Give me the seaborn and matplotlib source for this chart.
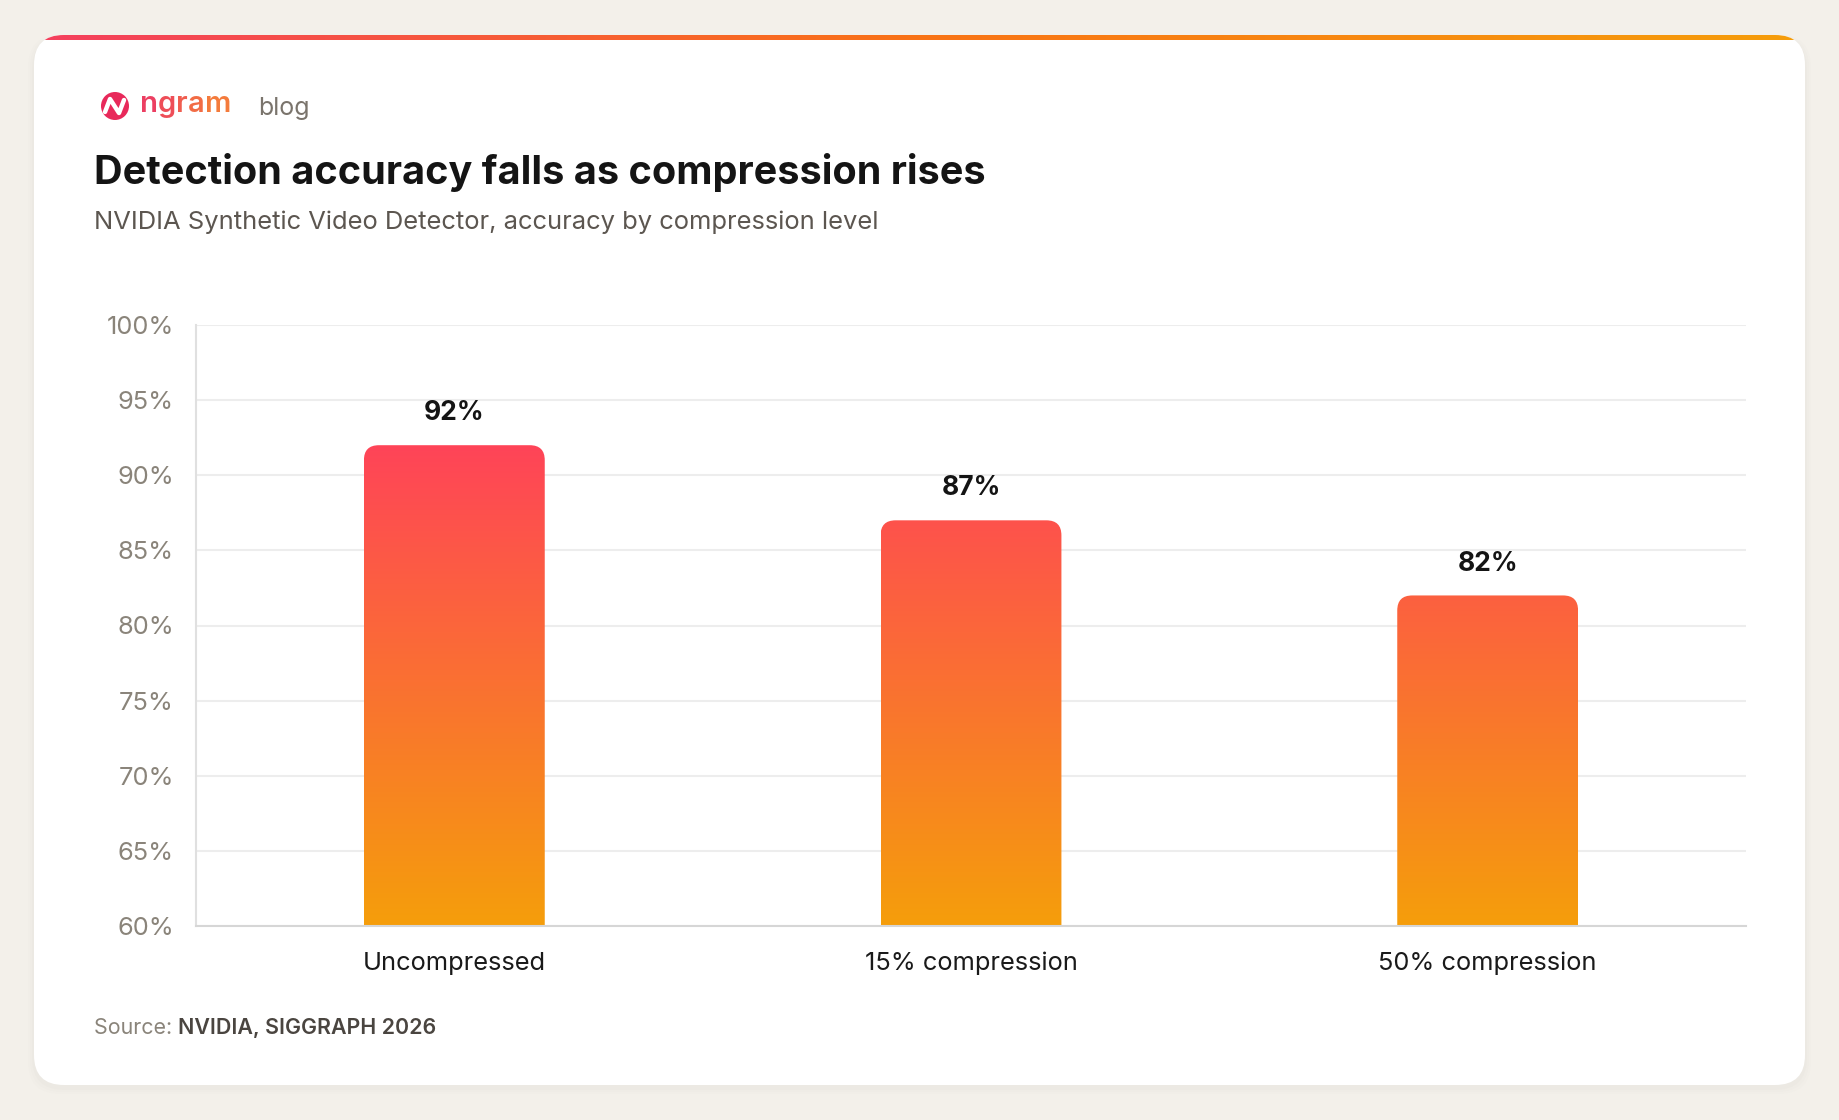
import matplotlib
matplotlib.use("Agg")
import matplotlib.pyplot as plt
import matplotlib.colors as mcolors
from matplotlib.patches import FancyBboxPatch, PathPatch, Circle
from matplotlib.path import Path
from matplotlib.transforms import IdentityTransform
import seaborn as sns
import numpy as np

# data
categories = ["Uncompressed", "15% compression", "50% compression"]
accuracy = [92, 87, 82]
y_ticks = [60, 65, 70, 75, 80, 85, 90, 95, 100]
y_tick_labels = [f"{t}%" for t in y_ticks]

W, H, DPI = 1840, 1120, 100
sns.set_theme(style="white")
plt.rcParams["font.family"] = ["Inter", "DejaVu Sans"]

fig = plt.figure(figsize=(W / DPI, H / DPI), dpi=DPI)
fig.patch.set_facecolor("#F3F0EA")

# background layer in pixel coords (origin top-left)
bg = fig.add_axes([0, 0, 1, 1])
bg.set_xlim(0, W)
bg.set_ylim(H, 0)
bg.axis("off")

card_x0, card_y0, card_x1, card_y1 = 34, 35, 1805, 1085
for i, a in enumerate([0.03, 0.025, 0.02]):
    bg.add_patch(FancyBboxPatch((card_x0 - 2 - i * 2, card_y0 + 2 - i), card_x1 - card_x0 + 4 + i * 4,
                                card_y1 - card_y0 + 3 + i * 3,
                                boxstyle="round,pad=0,rounding_size=32", fc="#B0A898", ec="none", alpha=a))
card = FancyBboxPatch((card_x0, card_y0), card_x1 - card_x0, card_y1 - card_y0,
                      boxstyle="round,pad=0,rounding_size=30", fc="white", ec="none")
bg.add_patch(card)

# top gradient strip
strip_cmap = mcolors.LinearSegmentedColormap.from_list("strip", ["#F43F5E", "#F97316", "#F59E0B"])
strip = bg.imshow(np.linspace(0, 1, 512).reshape(1, -1), cmap=strip_cmap, aspect="auto",
                  extent=[card_x0, card_x1, card_y0 + 5, card_y0], zorder=2)
strip.set_clip_path(card)
bg.set_xlim(0, W)
bg.set_ylim(H, 0)

# logo
logo = Circle((115, 106), 14, fc="#E8295A", ec="none", zorder=3)
bg.add_patch(logo)
bg.plot([105, 110, 119, 124], [112, 99, 113, 100], color="white", lw=3.2,
        solid_capstyle="round", solid_joinstyle="round", zorder=4)
logo_cmap = mcolors.LinearSegmentedColormap.from_list("logo", ["#EC3F62", "#F47B3C"])
lx = 140
fig.canvas.draw()
for k, ch in enumerate("ngram"):
    t = bg.text(lx, 104, ch, fontsize=21, fontweight="semibold", color=logo_cmap(k / 4),
                va="center", ha="left")
    lx += t.get_window_extent(renderer=fig.canvas.get_renderer()).width
bg.text(258, 108, "blog", fontsize=18, color="#7A746C", va="center", ha="left")

# titles
bg.text(94, 172, "Detection accuracy falls as compression rises", fontsize=28.5, fontweight="bold",
        color="#141414", va="center", ha="left")
bg.text(94, 222, "NVIDIA Synthetic Video Detector, accuracy by compression level", fontsize=18.4,
        color="#5C5650", va="center", ha="left")

# source
src = bg.text(94, 1028, "Source: ", fontsize=15.4, color="#8A847A", va="center", ha="left")
fig.canvas.draw()
bb = src.get_window_extent()
bg.text(94 + bb.width, 1028, "NVIDIA, SIGGRAPH 2026", fontsize=15.4, fontweight="semibold",
        color="#4A4540", va="center", ha="left")

# chart
ax = fig.add_axes([196 / W, 1 - 926 / H, (1746 - 196) / W, (926 - 325) / H])
ax.set_facecolor("none")
sns.barplot(x=categories, y=accuracy, width=0.35, ax=ax, color="#FF4458")
ax.set_xlim(-0.5, 2.5)
ax.set_ylim(60, 100)
ax.set_autoscale_on(False)
ax.set_yticks(y_ticks)
ax.set_yticklabels(y_tick_labels)
ax.grid(axis="y", color="#EDEDED", lw=1.5)
ax.set_axisbelow(True)
for s in ["top", "right"]:
    ax.spines[s].set_visible(False)
ax.spines["left"].set_color("#E0E0E0")
ax.spines["left"].set_linewidth(1.5)
ax.spines["bottom"].set_color("#D6D6D6")
ax.spines["bottom"].set_linewidth(1.5)
ax.tick_params(axis="y", length=9, width=1.5, color="#EDEDED", pad=7, labelsize=18.3, labelcolor="#8A847A")
ax.tick_params(axis="x", length=0, pad=18.5, labelsize=18.3, labelcolor="#1A1A1A")
ax.set_xlabel("")
ax.set_ylabel("")

bar_cmap = mcolors.LinearSegmentedColormap.from_list("bar", ["#F59E0B", "#FF4458"])
fig.canvas.draw()
r = 15
bars = [(p.get_x(), p.get_width()) for p in ax.patches]
for p in list(ax.patches):
    p.set_visible(False)
for (x0, w), v in zip(bars, accuracy):
    x1 = x0 + w
    (px0, py0), (px1, py1) = ax.transData.transform([(x0, 60), (x1, v)])
    verts = [(px0, py0), (px0, py1 - r), (px0, py1), (px0 + r, py1),
             (px1 - r, py1), (px1, py1), (px1, py1 - r), (px1, py0), (px0, py0)]
    codes = [Path.MOVETO, Path.LINETO, Path.CURVE3, Path.CURVE3,
             Path.LINETO, Path.CURVE3, Path.CURVE3, Path.LINETO, Path.CLOSEPOLY]
    clip = PathPatch(Path(verts, codes), transform=IdentityTransform(), fc="none", ec="none")
    ax.add_patch(clip)
    im = ax.imshow(np.linspace(0, 1, 256).reshape(-1, 1), cmap=bar_cmap, aspect="auto", origin="lower",
                   extent=[x0, x1, 60, 92], zorder=2)
    im.set_clip_path(clip)
    ax.annotate(f"{v}%", (x0 + w / 2, v), xytext=(0, 23), textcoords="offset points",
                ha="center", va="center", fontsize=19, fontweight="bold", color="#141414")

ax.set_xlim(-0.5, 2.5)
ax.set_ylim(60, 100)

fig.savefig("out.png", dpi=DPI, facecolor=fig.get_facecolor())
